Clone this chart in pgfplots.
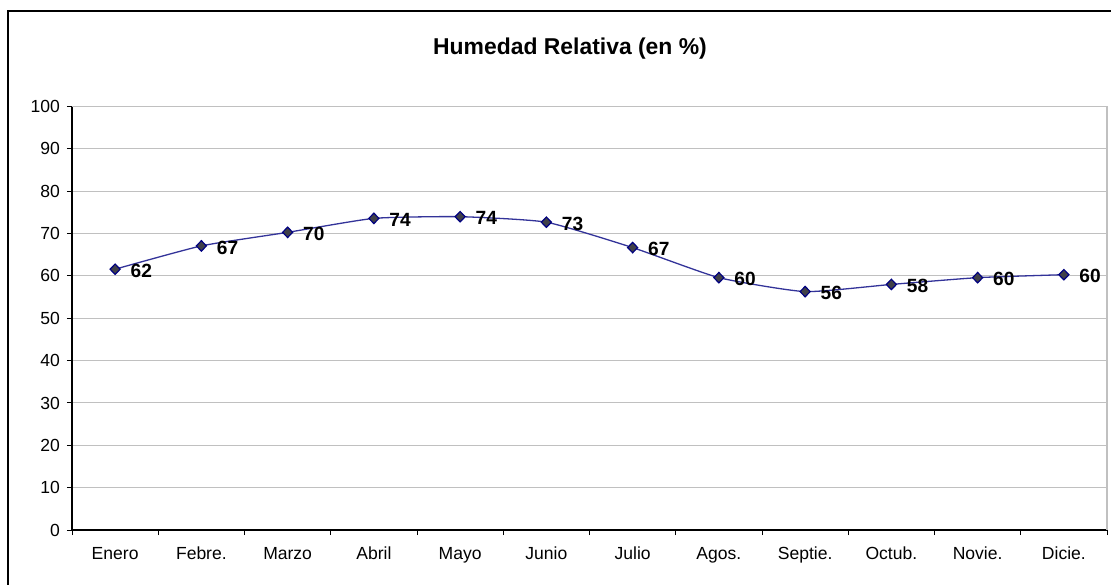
\documentclass[border=0pt]{standalone}
\usepackage{fontspec}
\setmainfont{Liberation Sans}
\usepackage{pgfplots}
\pgfplotsset{compat=1.18}
\definecolor{serie}{HTML}{333399}
\definecolor{edge}{HTML}{000080}
\definecolor{fillm}{HTML}{404048}
\definecolor{gridc}{HTML}{C0C0C0}

\pgfplotstableread{
m  v
0  61.6
1  67.1
2  70.3
3  73.6
4  74.0
5  72.7
6  66.7
7  59.6
8  56.3
9  58.0
10 59.6
11 60.3
}\humedad

\begin{document}
\begin{tikzpicture}
% 1 px of the reference = 0.5bp
\useasboundingbox (-36bp,-27.5bp) rectangle (519.5bp,265bp);
\draw[black,line width=1bp] (-32bp,-27.5bp) -- (-32bp,259.5bp) -- (519.5bp,259.5bp);
\node[font=\fontsize{11.5}{13}\selectfont\bfseries] at (249bp,240.5bp) {Humedad Relativa (en \%)};
\begin{axis}[at={(0,0)},anchor=south west,scale only axis,
  width=517.5bp,height=211.7bp,
  xmin=-0.5,xmax=11.5,ymin=0,ymax=100,
  axis lines*=left,
  axis line style={black,line width=0.6bp},
  ytick={0,10,...,100},
  xtick={-0.5,0.5,...,11.5},xticklabels={},
  extra x ticks={0,1,...,11},
  extra x tick labels={Enero,Febre.,Marzo,Abril,Mayo,Junio,Julio,Agos.,Septie.,Octub.,Novie.,Dicie.},
  extra x tick style={major tick length=0pt,grid=none,
    xticklabel style={yshift=-4.5bp,text height=6.5bp,text depth=0pt}},
  tick align=outside,major tick length=2.5bp,
  tick style={black,line width=0.5bp},
  ymajorgrids,grid style={gridc,line width=0.5bp},
  tick label style={font=\fontsize{8.8}{10}\selectfont},
  /pgf/number format/assume math mode=true,
  clip=false]
\draw[gridc,line width=0.6bp] (rel axis cs:0,1) -- (rel axis cs:1,1) -- (rel axis cs:1,0);
\addplot[serie,line width=0.65bp,smooth,tension=0.3,mark=diamond*,mark size=2.6bp,
  mark options={draw=edge,fill=fillm,line width=0.6bp,xscale=1.3},
  nodes near coords={\pgfmathprintnumber[fixed,precision=0]{\pgfplotspointmeta}},
  every node near coord/.append style={anchor=west,inner sep=0pt,xshift=7.5bp,yshift=-0.8bp,
    text=black,font=\fontsize{9.6}{10}\selectfont\bfseries}]
  table[x=m,y=v] {\humedad};
\end{axis}
\end{tikzpicture}
\end{document}
